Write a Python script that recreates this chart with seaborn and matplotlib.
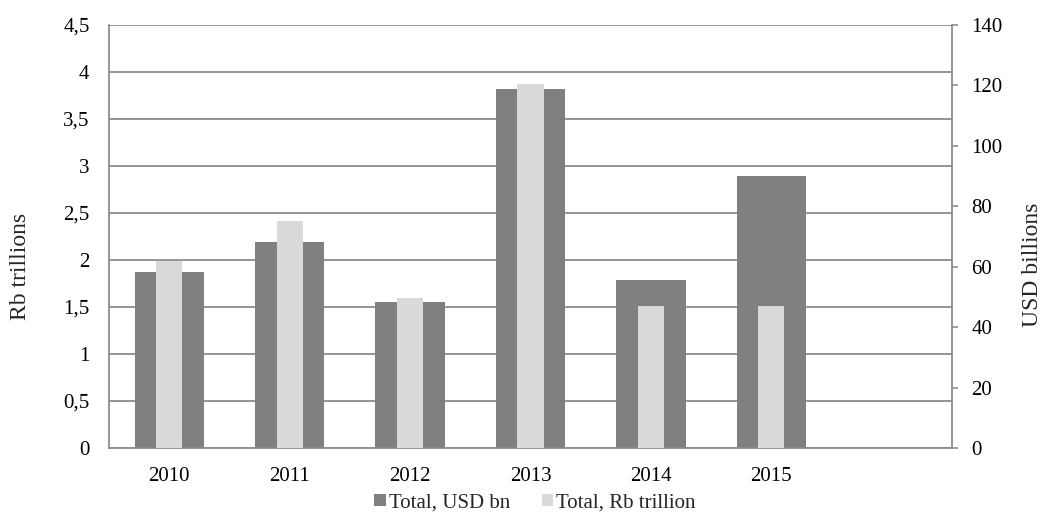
import matplotlib
matplotlib.use("Agg")
import matplotlib.pyplot as plt
import seaborn as sns
import pandas as pd
from matplotlib.ticker import FuncFormatter
from matplotlib.patches import Patch

years = ["2010", "2011", "2012", "2013", "2014", "2015"]
usd_bn = [58.4, 68.3, 48.2, 118.7, 55.6, 90.0]
rb_trillion = [1.99, 2.41, 1.60, 3.87, 1.51, 1.51]
left_ticks = [0, 0.5, 1, 1.5, 2, 2.5, 3, 3.5, 4, 4.5]
right_ticks = [0, 20, 40, 60, 80, 100, 120, 140]

dark = "#808080"
light = "#d9d9d9"
grid_c = "#8c8c8c"

sns.set_theme(style="white")
plt.rcParams["font.family"] = ["Liberation Serif", "DejaVu Serif"]
FS = 15
LFS = 17

df = pd.DataFrame({"year": years, "usd": usd_bn, "rb": rb_trillion})
order = years + [" "]

fig = plt.figure(figsize=(10.44, 5.14), dpi=100)
ax = fig.add_subplot(111)
fig.subplots_adjust(left=109/1044, right=952/1044, top=1-25/514, bottom=1-448/514)

# background axis: left Rb scale with gridlines
ax.set_ylim(0, 4.5)
ax.set_yticks(left_ticks)
ax.yaxis.set_major_formatter(FuncFormatter(lambda v, p: ("%g" % v).replace(".", ",")))
ax.grid(axis="y", color=grid_c, linewidth=1.3)
ax.set_axisbelow(True)
ax.tick_params(axis="y", length=0, pad=14, labelsize=FS, colors="black")
ax.tick_params(axis="x", length=0, pad=13.5, labelsize=FS, colors="black")

# dark bars on right USD axis
ax2 = ax.twinx()
sns.barplot(data=df, x="year", y="usd", order=order, color=dark, width=0.576,
            saturation=1, edgecolor="none", ax=ax2)
ax2.set_ylim(0, 140)
ax2.set_yticks(right_ticks)
ax2.tick_params(axis="y", length=4, width=1.2, pad=10, labelsize=FS, labelcolor="black", color=grid_c)
ax2.set_ylabel("")
ax2.set_xlabel("")

# light bars on Rb scale
ax3 = ax.twinx()
sns.barplot(data=df, x="year", y="rb", order=order, color=light, width=0.216,
            saturation=1, edgecolor="none", ax=ax3)
ax3.set_ylim(0, 4.5)
ax3.set_yticks([])
ax3.set_ylabel("")
ax3.set_xlabel("")

for a in (ax, ax2, ax3):
    a.set_xlim(-0.5, 6.5)
    for s in a.spines.values():
        s.set_visible(False)

ax.set_xticks(range(len(order)))
ax.set_xticklabels(order)
ax.set_xlabel("")
ax.set_ylabel("")
ax2.tick_params(axis="x", labelbottom=False, length=0)
ax3.tick_params(axis="x", labelbottom=False, length=0)
for side in ("left", "bottom", "right"):
    ax2.spines[side].set_visible(True)
    ax2.spines[side].set_color(grid_c)
    ax2.spines[side].set_linewidth(1.3)

fig.text(21/1044, 1-266/514, "Rb trillions", rotation=90, ha="center", va="center", fontsize=LFS)
fig.text(1043/1044, 1-265/514, "USD billions", rotation=90, ha="right", va="center", fontsize=LFS)

handles = [Patch(facecolor=dark, edgecolor="none", label="Total, USD bn"),
           Patch(facecolor=light, edgecolor="none", label="Total, Rb trillion")]
fig.legend(handles=handles, loc="center", bbox_to_anchor=(535/1044, 1-503/514),
           ncol=2, frameon=False, fontsize=FS, handlelength=0.55, handleheight=0.55,
           handletextpad=0.15, columnspacing=1.5, borderpad=0)

fig.savefig("out.png", dpi=100)
